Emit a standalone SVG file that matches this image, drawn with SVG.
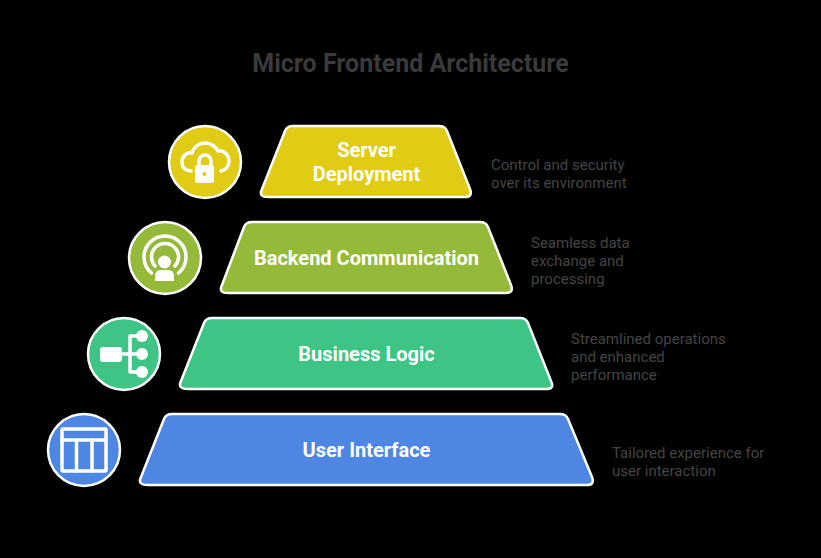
<svg xmlns="http://www.w3.org/2000/svg" width="821" height="558" viewBox="0 0 821 558">
<style>
text{font-family:Roboto,"Liberation Sans",sans-serif}
.t{font-size:25px;font-weight:700;fill:#3a3a3a;text-anchor:middle}
.l{font-size:20px;font-weight:700;fill:#fff;text-anchor:middle}
.d{font-size:15px;fill:#444}
.s{stroke:#fff;stroke-width:2.500;stroke-linejoin:round}
.i{fill:none;stroke:#fff;stroke-width:3.500;stroke-linecap:round;stroke-linejoin:round}
.w{fill:#fff}
</style>
<rect width="821" height="558" fill="#000"/>
<text id="title" class="t" x="410.500" y="72">Micro Frontend Architecture</text>
<g id="server-deployment">
<path class="s" fill="#e0cb15" d="M293 126H439Q445 126 447 131L470 189Q473 197 465 197H268Q258 197 262 189L285 131Q287 126 293 126Z"/>
<text class="l" x="366.500" y="157">Server</text><text class="l" x="366.500" y="181">Deployment</text>
<circle class="s" fill="#e0cb15" cx="205" cy="162" r="36"/>
<path class="i" d="M191 171C186 171 182 168 182 162C182 156 187 152 192 153C194 147 199 143 205 143C211 143 216 147 218 151C224 150 229 155 229 161C229 166 226 170 221 171"/>
<path class="i" stroke-width="3" d="M199 165V161A5.500 5.500 0 0 1 211 161V165"/>
<rect class="w" x="195" y="165" width="19" height="18" rx="2"/>
<circle cx="204.500" cy="174" r="2" fill="#e0cb15"/>
<text class="d"><tspan x="491" y="170">Control and security</tspan><tspan x="491" y="188">over its environment</tspan></text>
</g>
<g id="backend-communication">
<path class="s" fill="#95ba3a" d="M252 222H480Q486 222 488 227L511 285Q514 293 506 293H228Q218 293 222 285L244 227Q246 222 252 222Z"/>
<text class="l" x="366.500" y="265">Backend Communication</text>
<circle class="s" fill="#95ba3a" cx="165" cy="258" r="36"/>
<path class="i" stroke-width="4" d="M151.400 273A21 21 0 1 1 178.600 273"/>
<path class="i" stroke-width="4" d="M155 266A13.500 13.500 0 1 1 175 266"/>
<circle class="w" cx="164.500" cy="262" r="6.500"/>
<path class="w" d="M155 281V276Q155 270 161 270H168Q174 270 174 276V281Z"/>
<text class="d"><tspan x="531" y="248">Seamless data</tspan><tspan x="531" y="266">exchange and</tspan><tspan x="531" y="284">processing</tspan></text>
</g>
<g id="business-logic">
<path class="s" fill="#3ec484" d="M212 318H520Q526 318 528 323L551 381Q555 389 546 389H188Q177 389 181 381L204 323Q206 318 212 318Z"/>
<text class="l" x="366.500" y="361">Business Logic</text>
<circle class="s" fill="#3ec484" cx="124" cy="354" r="36"/>
<rect class="w" x="100" y="347" width="22" height="15" rx="3"/>
<path class="i" d="M121 354H142M130 336V372M130 336H142M130 372H142"/>
<circle class="w" cx="142" cy="336" r="6"/><circle class="w" cx="142" cy="354" r="6"/><circle class="w" cx="142" cy="372" r="6"/>
<text class="d"><tspan x="571" y="344">Streamlined operations</tspan><tspan x="571" y="362">and enhanced</tspan><tspan x="571" y="380">performance</tspan></text>
</g>
<g id="user-interface">
<path class="s" fill="#4d86e3" d="M172 414H560Q566 414 568 419L592 477Q595 485 587 485H148Q137 485 141 477L164 419Q166 414 172 414Z"/>
<text class="l" x="366.500" y="457">User Interface</text>
<circle class="s" fill="#4d86e3" cx="84" cy="450" r="36"/>
<rect class="i" x="62" y="429" width="44" height="42" stroke-width="4" rx="1"/>
<path class="i" stroke-width="4" d="M62 440H106M76.500 440V471M92 440V471"/>
<text class="d"><tspan x="612" y="458">Tailored experience for</tspan><tspan x="612" y="476">user interaction</tspan></text>
</g>
<g id="connectors"></g>
</svg>
